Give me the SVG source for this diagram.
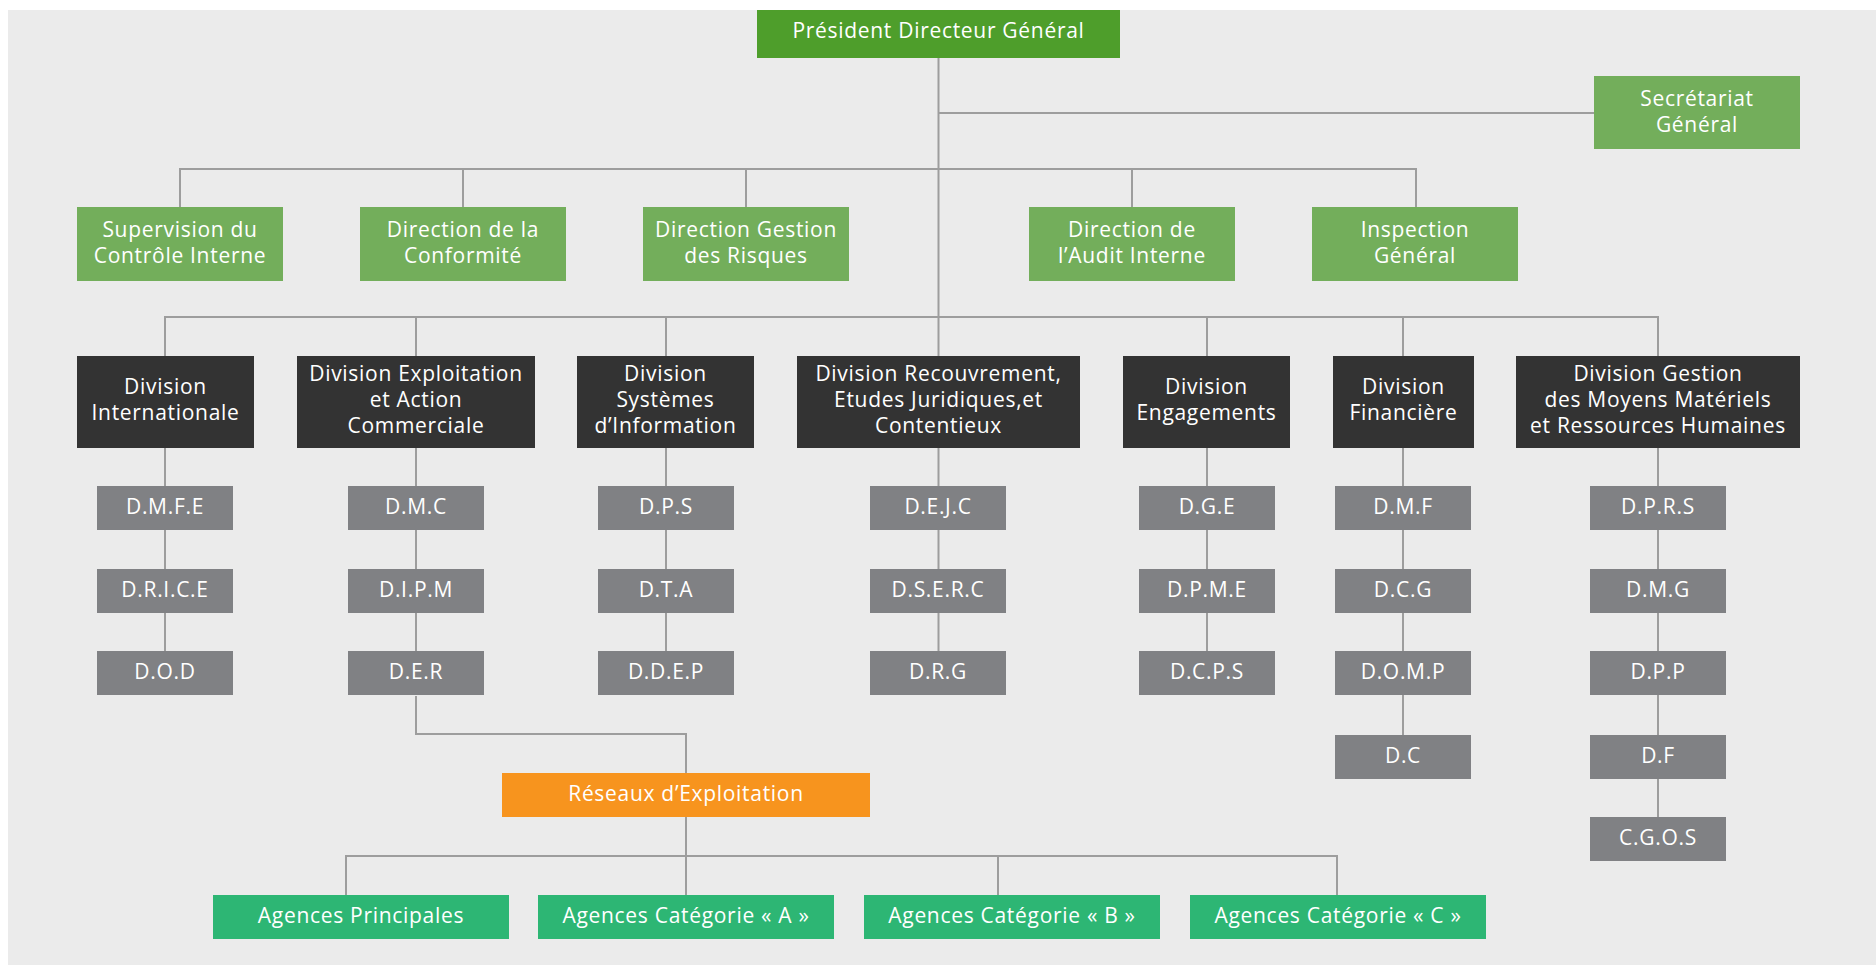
<svg xmlns="http://www.w3.org/2000/svg" width="1876" height="965" viewBox="0 0 1876 965">
<style>
.bg{fill:#ebebeb}
.ln{stroke:#9d9d9d;stroke-width:2;fill:none}
.pdg{fill:#4e9e2b}
.lg{fill:#73ae5b}
.dk{fill:#333333}
.gr{fill:#808184}
.or{fill:#f7941e}
.ag{fill:#2db674}
text{font-family:"Open Sans","Noto Sans","DejaVu Sans",sans-serif;font-size:21px;fill:#ffffff;text-anchor:middle;letter-spacing:0.7px}
</style>
<rect x="0" y="0" width="1876" height="965" fill="#ffffff"/>
<rect class="bg" x="8" y="10" width="1868" height="955"/>
<g id="connectors">
<path class="ln" d="M938.5 58V356"/>
<path class="ln" d="M938.5 113H1594"/>
<path class="ln" d="M180 207V169H1416V207M463 169V207M746 169V207M1132 169V207"/>
<path class="ln" d="M165 356V317H1658V356M416 317V356M666 317V356M1207 317V356M1403 317V356"/>
<path class="ln" d="M165 448V651M416 448V651M666 448V651M938.5 448V651M1207 448V651M1403 448V735M1658 448V817"/>
<path class="ln" d="M416 696V734H686V773"/>
<path class="ln" d="M686 817V895"/>
<path class="ln" d="M346 895V856H1337V895M998 856V895"/>
</g>
<g id="pdg"><rect class="pdg" x="757" y="10" width="363" height="48"/><text x="938.5" y="37.5">Président Directeur Général</text></g>
<g id="secretariat"><rect class="lg" x="1594" y="76" width="206" height="73"/><text x="1697" y="106">Secrétariat</text><text x="1697" y="132">Général</text></g>
<g id="supervision"><rect class="lg" x="77" y="207" width="206" height="74"/><text x="180" y="237">Supervision du</text><text x="180" y="263">Contrôle Interne</text></g>
<g id="conformite"><rect class="lg" x="360" y="207" width="206" height="74"/><text x="463" y="237">Direction de la</text><text x="463" y="263">Conformité</text></g>
<g id="risques"><rect class="lg" x="643" y="207" width="206" height="74"/><text x="746" y="237">Direction Gestion</text><text x="746" y="263">des Risques</text></g>
<g id="audit"><rect class="lg" x="1029" y="207" width="206" height="74"/><text x="1132" y="237">Direction de</text><text x="1132" y="263">l’Audit Interne</text></g>
<g id="inspection"><rect class="lg" x="1312" y="207" width="206" height="74"/><text x="1415" y="237">Inspection</text><text x="1415" y="263">Général</text></g>
<g id="div-internationale"><rect class="dk" x="77" y="356" width="177" height="92"/><text x="165.5" y="394">Division</text><text x="165.5" y="420">Internationale</text></g>
<g id="div-exploitation"><rect class="dk" x="297" y="356" width="238" height="92"/><text x="416" y="381">Division Exploitation</text><text x="416" y="407">et Action</text><text x="416" y="433">Commerciale</text></g>
<g id="div-systemes"><rect class="dk" x="577" y="356" width="177" height="92"/><text x="665.5" y="381">Division</text><text x="665.5" y="407">Systèmes</text><text x="665.5" y="433">d’Information</text></g>
<g id="div-recouvrement"><rect class="dk" x="797" y="356" width="283" height="92"/><text x="938.5" y="381">Division Recouvrement,</text><text x="938.5" y="407">Etudes Juridiques,et</text><text x="938.5" y="433">Contentieux</text></g>
<g id="div-engagements"><rect class="dk" x="1123" y="356" width="167" height="92"/><text x="1206.5" y="394">Division</text><text x="1206.5" y="420">Engagements</text></g>
<g id="div-financiere"><rect class="dk" x="1333" y="356" width="141" height="92"/><text x="1403.5" y="394">Division</text><text x="1403.5" y="420">Financière</text></g>
<g id="div-gestion"><rect class="dk" x="1516" y="356" width="284" height="92"/><text x="1658" y="381">Division Gestion</text><text x="1658" y="407">des Moyens Matériels</text><text x="1658" y="433">et Ressources Humaines</text></g>
<g id="dmfe"><rect class="gr" x="97" y="486" width="136" height="44"/><text x="165" y="514">D.M.F.E</text></g>
<g id="drice"><rect class="gr" x="97" y="569" width="136" height="44"/><text x="165" y="597">D.R.I.C.E</text></g>
<g id="dod"><rect class="gr" x="97" y="651" width="136" height="44"/><text x="165" y="679">D.O.D</text></g>
<g id="dmc"><rect class="gr" x="348" y="486" width="136" height="44"/><text x="416" y="514">D.M.C</text></g>
<g id="dipm"><rect class="gr" x="348" y="569" width="136" height="44"/><text x="416" y="597">D.I.P.M</text></g>
<g id="der"><rect class="gr" x="348" y="651" width="136" height="44"/><text x="416" y="679">D.E.R</text></g>
<g id="dps"><rect class="gr" x="598" y="486" width="136" height="44"/><text x="666" y="514">D.P.S</text></g>
<g id="dta"><rect class="gr" x="598" y="569" width="136" height="44"/><text x="666" y="597">D.T.A</text></g>
<g id="ddep"><rect class="gr" x="598" y="651" width="136" height="44"/><text x="666" y="679">D.D.E.P</text></g>
<g id="dejc"><rect class="gr" x="870" y="486" width="136" height="44"/><text x="938" y="514">D.E.J.C</text></g>
<g id="dserc"><rect class="gr" x="870" y="569" width="136" height="44"/><text x="938" y="597">D.S.E.R.C</text></g>
<g id="drg"><rect class="gr" x="870" y="651" width="136" height="44"/><text x="938" y="679">D.R.G</text></g>
<g id="dge"><rect class="gr" x="1139" y="486" width="136" height="44"/><text x="1207" y="514">D.G.E</text></g>
<g id="dpme"><rect class="gr" x="1139" y="569" width="136" height="44"/><text x="1207" y="597">D.P.M.E</text></g>
<g id="dcps"><rect class="gr" x="1139" y="651" width="136" height="44"/><text x="1207" y="679">D.C.P.S</text></g>
<g id="dmf"><rect class="gr" x="1335" y="486" width="136" height="44"/><text x="1403" y="514">D.M.F</text></g>
<g id="dcg"><rect class="gr" x="1335" y="569" width="136" height="44"/><text x="1403" y="597">D.C.G</text></g>
<g id="domp"><rect class="gr" x="1335" y="651" width="136" height="44"/><text x="1403" y="679">D.O.M.P</text></g>
<g id="dc"><rect class="gr" x="1335" y="735" width="136" height="44"/><text x="1403" y="763">D.C</text></g>
<g id="dprs"><rect class="gr" x="1590" y="486" width="136" height="44"/><text x="1658" y="514">D.P.R.S</text></g>
<g id="dmg"><rect class="gr" x="1590" y="569" width="136" height="44"/><text x="1658" y="597">D.M.G</text></g>
<g id="dpp"><rect class="gr" x="1590" y="651" width="136" height="44"/><text x="1658" y="679">D.P.P</text></g>
<g id="df"><rect class="gr" x="1590" y="735" width="136" height="44"/><text x="1658" y="763">D.F</text></g>
<g id="cgos"><rect class="gr" x="1590" y="817" width="136" height="44"/><text x="1658" y="845">C.G.O.S</text></g>
<g id="reseaux"><rect class="or" x="502" y="773" width="368" height="44"/><text x="686" y="801">Réseaux d’Exploitation</text></g>
<g id="ag-principales"><rect class="ag" x="213" y="895" width="296" height="44"/><text x="361" y="923">Agences Principales</text></g>
<g id="ag-a"><rect class="ag" x="538" y="895" width="296" height="44"/><text x="686" y="923">Agences Catégorie « A »</text></g>
<g id="ag-b"><rect class="ag" x="864" y="895" width="296" height="44"/><text x="1012" y="923">Agences Catégorie « B »</text></g>
<g id="ag-c"><rect class="ag" x="1190" y="895" width="296" height="44"/><text x="1338" y="923">Agences Catégorie « C »</text></g>
</svg>
